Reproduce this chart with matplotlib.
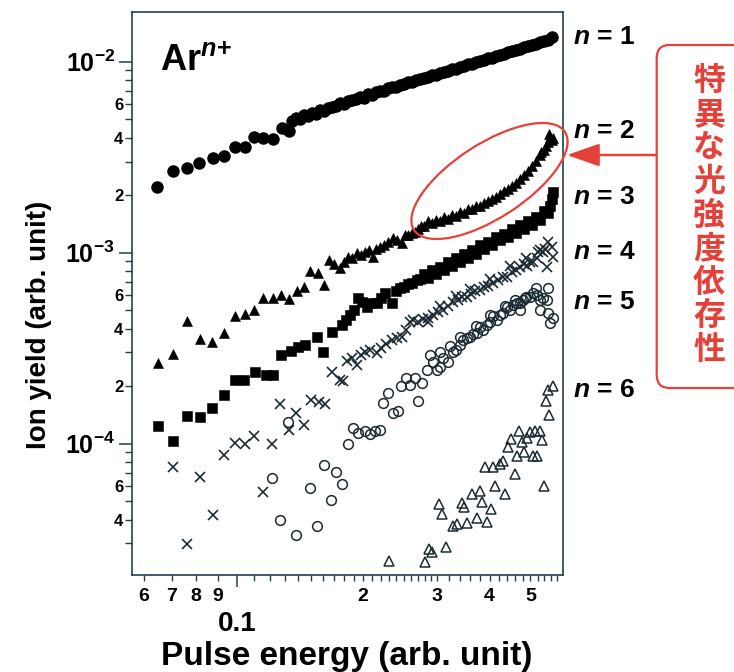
import numpy as np
import matplotlib
matplotlib.use('Agg')
import matplotlib.pyplot as plt
from matplotlib.patches import Ellipse, FancyBboxPatch
from matplotlib.ticker import FixedLocator, FuncFormatter

# ── FONTS ────────────────────────────────────────────────────────────────────
plt.rcParams['font.family'] = ['Liberation Sans', 'DejaVu Sans']
plt.rcParams['font.weight'] = 'bold'
plt.rcParams['mathtext.fontset'] = 'custom'
plt.rcParams['mathtext.rm'] = 'Liberation Sans:bold'
plt.rcParams['mathtext.bf'] = 'Liberation Sans:bold'
plt.rcParams['mathtext.it'] = 'Liberation Sans:italic:bold'

# ── DATA ─────────────────────────────────────────────────────────────────────
n1_energy = [0.0647, 0.0704, 0.0760, 0.0815, 0.0877, 0.0933, 0.0991, 0.1047, 0.1099, 0.1157,
             0.1218, 0.1280, 0.1334,
             0.1354, 0.1384, 0.1415, 0.1446, 0.1478, 0.1511, 0.1544, 0.1579, 0.1614, 0.1649,
             0.1686, 0.1723, 0.1761, 0.1800, 0.1840, 0.1881, 0.1923, 0.1965, 0.2009, 0.2053,
             0.2099, 0.2145, 0.2193, 0.2241, 0.2291, 0.2342, 0.2394, 0.2447, 0.2501, 0.2556,
             0.2613, 0.2671, 0.2730, 0.2790, 0.2852, 0.2915, 0.2980, 0.3046, 0.3113, 0.3182,
             0.3253, 0.3325, 0.3398, 0.3474, 0.3551, 0.3629, 0.3710, 0.3792, 0.3876, 0.3962,
             0.4049, 0.4139, 0.4231, 0.4325, 0.4420, 0.4518, 0.4618, 0.4721, 0.4825, 0.4932,
             0.5041, 0.5153, 0.5267, 0.5384, 0.5503, 0.5625]
n1_yield = [2.21e-3, 2.68e-3, 2.77e-3, 2.94e-3, 3.12e-3, 3.22e-3, 3.59e-3, 3.56e-3, 4.02e-3, 3.97e-3,
            3.92e-3, 4.48e-3, 4.35e-3,
            4.89e-3, 5.07e-3, 5.01e-3, 5.26e-3, 5.20e-3, 5.39e-3, 5.33e-3, 5.59e-3, 5.52e-3, 5.73e-3,
            5.79e-3, 5.86e-3, 6.08e-3, 6.00e-3, 6.22e-3, 6.30e-3, 6.38e-3, 6.53e-3, 6.46e-3, 6.77e-3,
            6.69e-3, 6.94e-3, 7.02e-3, 7.02e-3, 7.28e-3, 7.37e-3, 7.37e-3, 7.55e-3, 7.64e-3, 7.83e-3,
            7.83e-3, 8.02e-3, 8.12e-3, 8.22e-3, 8.32e-3, 8.52e-3, 8.52e-3, 8.73e-3, 8.84e-3, 8.94e-3,
            9.16e-3, 9.16e-3, 9.38e-3, 9.50e-3, 9.73e-3, 9.73e-3, 9.97e-3, 1.009e-2, 1.021e-2, 1.046e-2,
            1.046e-2, 1.071e-2, 1.084e-2, 1.098e-2, 1.125e-2, 1.139e-2, 1.152e-2, 1.166e-2, 1.195e-2, 1.209e-2,
            1.223e-2, 1.238e-2, 1.269e-2, 1.284e-2, 1.299e-2, 1.348e-2]

n2_energy = [0.0648, 0.0703, 0.0762, 0.0816, 0.0875, 0.0933, 0.0988, 0.1047, 0.1099, 0.1157,
             0.1217, 0.1273, 0.1328, 0.1392, 0.1446, 0.1495, 0.1561, 0.1609, 0.1659, 0.1704,
             0.1761, 0.1800, 0.1843, 0.1881, 0.1930, 0.1976, 0.2020, 0.2064, 0.2113, 0.2145,
             0.2193, 0.2241, 0.2295, 0.2360, 0.2407, 0.2471, 0.2515, 0.2561, 0.2613, 0.2656,
             0.2700, 0.2745,
             0.2790, 0.2852, 0.2915, 0.2980, 0.3046, 0.3113, 0.3182, 0.3253, 0.3325, 0.3398,
             0.3474, 0.3551, 0.3629, 0.3710, 0.3792, 0.3876, 0.3962, 0.4049, 0.4139, 0.4231,
             0.4325, 0.4420, 0.4518, 0.4618, 0.4721, 0.4825, 0.4932, 0.5041, 0.5153, 0.5267,
             0.5384, 0.5503, 0.5625,
             0.5533, 0.5655, 0.5443, 0.5296, 0.5564]
n2_yield = [2.64e-4, 2.95e-4, 4.41e-4, 3.52e-4, 3.41e-4, 3.79e-4, 4.65e-4, 4.79e-4, 4.98e-4, 5.80e-4,
            5.79e-4, 5.97e-4, 5.70e-4, 6.30e-4, 6.64e-4, 8.02e-4, 7.85e-4, 6.80e-4, 9.16e-4, 8.73e-4,
            8.29e-4, 8.94e-4, 9.46e-4, 9.39e-4, 9.98e-4, 9.73e-4, 1.01e-3, 1.03e-3, 9.46e-4, 1.04e-3,
            1.07e-3, 1.10e-3, 1.14e-3, 1.19e-3, 1.17e-3, 1.12e-3, 1.23e-3, 1.24e-3, 1.27e-3, 1.29e-3,
            1.33e-3, 1.38e-3,
            1.38e-3, 1.46e-3, 1.43e-3, 1.48e-3, 1.47e-3, 1.54e-3, 1.50e-3, 1.58e-3, 1.56e-3, 1.63e-3,
            1.61e-3, 1.69e-3, 1.69e-3, 1.76e-3, 1.76e-3, 1.82e-3, 1.86e-3, 1.91e-3, 1.95e-3, 2.03e-3,
            2.10e-3, 2.16e-3, 2.23e-3, 2.31e-3, 2.43e-3, 2.55e-3, 2.68e-3, 2.85e-3, 3.02e-3, 3.25e-3,
            3.45e-3, 3.79e-3, 3.89e-3,
            4.18e-3, 4.00e-3, 3.60e-3, 3.35e-3, 4.05e-3]

n3_energy = [0.0649, 0.0703, 0.0760, 0.0818, 0.0873, 0.0933, 0.0991, 0.1041, 0.1102, 0.1174,
             0.1222, 0.1275, 0.1346, 0.1402, 0.1454, 0.1550, 0.1607, 0.1686, 0.1778, 0.1821,
             0.1860, 0.1902, 0.1946, 0.1987, 0.2039, 0.2088, 0.2154, 0.2206, 0.2254, 0.2336,
             0.2394, 0.2447, 0.2501, 0.2556, 0.2613, 0.2681, 0.2730,
             0.2790, 0.2852, 0.2915, 0.2980, 0.3046, 0.3113, 0.3182, 0.3253, 0.3325, 0.3398,
             0.3474, 0.3551, 0.3629, 0.3710, 0.3792, 0.3876, 0.3962, 0.4049, 0.4139, 0.4231,
             0.4325, 0.4420, 0.4518, 0.4618, 0.4721, 0.4825, 0.4932, 0.5041, 0.5153, 0.5267,
             0.5384, 0.5503, 0.5625,
             0.5564, 0.5655]
n3_yield = [1.24e-4, 1.03e-4, 1.39e-4, 1.37e-4, 1.54e-4, 1.79e-4, 2.16e-4, 2.15e-4, 2.36e-4, 2.29e-4,
            2.29e-4, 2.91e-4, 3.07e-4, 3.22e-4, 3.29e-4, 3.63e-4, 3.03e-4, 3.82e-4, 4.18e-4, 4.44e-4,
            4.72e-4, 5.01e-4, 5.77e-4, 5.52e-4, 5.21e-4, 5.45e-4, 5.43e-4, 5.79e-4, 6.13e-4, 5.43e-4,
            6.30e-4, 6.51e-4, 6.62e-4, 6.86e-4, 6.95e-4, 7.20e-4, 7.29e-4,
            7.74e-4, 7.37e-4, 8.12e-4, 7.74e-4, 8.42e-4, 8.12e-4, 8.94e-4, 8.52e-4, 9.39e-4, 8.94e-4,
            9.84e-4, 9.39e-4, 1.03e-3, 9.84e-4, 1.09e-3, 1.04e-3, 1.14e-3, 1.09e-3, 1.20e-3, 1.16e-3,
            1.25e-3, 1.21e-3, 1.33e-3, 1.27e-3, 1.40e-3, 1.33e-3, 1.46e-3, 1.40e-3, 1.54e-3, 1.48e-3,
            1.65e-3, 1.61e-3, 1.91e-3,
            1.76e-3, 2.08e-3]

n4_energy = [0.0704, 0.0760, 0.0816, 0.0876, 0.0931, 0.0991, 0.1045, 0.1099, 0.1157, 0.1214,
             0.1270, 0.1330, 0.1386, 0.1443, 0.1499, 0.1570, 0.1623, 0.1690, 0.1761, 0.1793,
             0.1825, 0.1881, 0.1930, 0.1976, 0.2020, 0.2075, 0.2154, 0.2206, 0.2266, 0.2336,
             0.2403, 0.2471, 0.2528, 0.2584, 0.2632, 0.2700, 0.2781, 0.2852, 0.2935, 0.3013,
             0.3101, 0.3182, 0.3278, 0.3361, 0.3436, 0.3525, 0.3610, 0.3690, 0.3792, 0.3876,
             0.3962, 0.4080, 0.4185, 0.4301, 0.4396, 0.4518, 0.4618, 0.4721, 0.4825, 0.4905,
             0.4986, 0.5069, 0.5172, 0.5267, 0.5355, 0.5463, 0.5503, 0.5616, 0.5655,
             0.3046, 0.3325, 0.3590, 0.4006, 0.4469, 0.4878, 0.5210, 0.5413, 0.2852]
n4_yield = [7.53e-5, 2.97e-5, 6.72e-5, 4.21e-5, 8.68e-5, 1.01e-4, 9.99e-5, 1.09e-4, 5.55e-5, 1.00e-4,
            1.61e-4, 1.18e-4, 1.44e-4, 1.25e-4, 1.69e-4, 1.66e-4, 1.62e-4, 2.38e-4, 2.16e-4, 2.12e-4,
            2.71e-4, 2.81e-4, 2.58e-4, 2.91e-4, 3.03e-4, 3.09e-4, 2.97e-4, 3.17e-4, 3.33e-4, 3.49e-4,
            3.58e-4, 3.63e-4, 3.94e-4, 4.34e-4, 4.44e-4, 4.34e-4, 4.50e-4, 4.55e-4, 4.72e-4, 4.89e-4,
            5.01e-4, 5.26e-4, 5.54e-4, 5.65e-4, 5.87e-4, 5.89e-4, 6.08e-4, 6.30e-4, 6.38e-4, 6.62e-4,
            6.70e-4, 6.92e-4, 7.20e-4, 7.46e-4, 7.49e-4, 7.93e-4, 8.12e-4, 8.45e-4, 8.73e-4, 8.52e-4,
            8.98e-4, 8.94e-4, 9.39e-4, 1.03e-3, 1.01e-3, 8.45e-4, 1.13e-3, 1.07e-3, 9.53e-4,
            5.26e-4, 5.94e-4, 6.46e-4, 7.29e-4, 8.52e-4, 9.39e-4, 1.01e-3, 1.05e-3, 4.34e-4]

n5_energy = [0.1214, 0.1270, 0.1326, 0.1386, 0.1495, 0.1553, 0.1610, 0.1675, 0.1723, 0.1783,
             0.1835, 0.1894, 0.1946, 0.2020, 0.2075, 0.2133, 0.2193, 0.2232, 0.2295, 0.2355,
             0.2424, 0.2465, 0.2529, 0.2584, 0.2656, 0.2698, 0.2756, 0.2832, 0.2885, 0.2936,
             0.2993, 0.3046, 0.3102, 0.3188, 0.3217, 0.3274, 0.3335, 0.3398, 0.3455, 0.3526,
             0.3590, 0.3649, 0.3724, 0.3792, 0.3862, 0.3940, 0.4006, 0.4080, 0.4162, 0.4231,
             0.4301, 0.4391, 0.4469, 0.4543, 0.4643, 0.4721, 0.4799, 0.4890, 0.4986, 0.5077,
             0.5172, 0.5267, 0.5267, 0.5364, 0.5463, 0.5512, 0.5512, 0.5564, 0.5666,
             0.3046, 0.3398, 0.3710, 0.4006, 0.4353, 0.4593, 0.4851, 0.5153, 0.4721]
n5_yield = [6.62e-5, 3.97e-5, 1.30e-4, 3.32e-5, 5.84e-5, 3.72e-5, 7.69e-5, 5.05e-5, 7.07e-5, 6.14e-5,
            1.00e-4, 1.21e-4, 1.13e-4, 1.17e-4, 1.12e-4, 1.17e-4, 1.18e-4, 1.63e-4, 1.83e-4, 1.44e-4,
            1.49e-4, 2.00e-4, 2.20e-4, 2.02e-4, 2.20e-4, 1.67e-4, 2.07e-4, 2.43e-4, 2.91e-4, 2.68e-4,
            2.43e-4, 2.53e-4, 2.80e-4, 2.69e-4, 3.25e-4, 3.03e-4, 3.09e-4, 3.29e-4, 3.49e-4, 3.58e-4,
            3.63e-4, 3.76e-4, 3.80e-4, 4.08e-4, 3.94e-4, 4.18e-4, 4.34e-4, 4.66e-4, 4.44e-4, 4.72e-4,
            4.84e-4, 5.19e-4, 5.01e-4, 5.32e-4, 5.45e-4, 5.43e-4, 5.65e-4, 5.89e-4, 5.89e-4, 6.13e-4,
            6.01e-4, 5.65e-4, 5.01e-4, 5.77e-4, 5.65e-4, 6.54e-4, 4.82e-4, 4.27e-4, 4.55e-4,
            3.02e-4, 3.62e-4, 4.13e-4, 4.72e-4, 5.26e-4, 5.65e-4, 5.79e-4, 6.54e-4, 5.01e-4]

n6_energy = [0.2304, 0.2813, 0.2868, 0.2915, 0.3034, 0.3080, 0.3156, 0.3276, 0.3338, 0.3430,
             0.3474, 0.3532, 0.3639, 0.3724, 0.3792, 0.3838, 0.3897, 0.3940, 0.4020, 0.4078,
             0.4116, 0.4231, 0.4308, 0.4349, 0.4427, 0.4493, 0.4585, 0.4636, 0.4695, 0.4765,
             0.4825, 0.4905, 0.4986, 0.5077, 0.5125, 0.5196, 0.5267, 0.5325, 0.5384, 0.5452,
             0.5512, 0.5533, 0.5672]
n6_yield = [2.43e-5, 2.40e-5, 2.81e-5, 2.71e-5, 4.85e-5, 4.26e-5, 2.89e-5, 3.68e-5, 3.79e-5, 4.91e-5,
            4.64e-5, 3.86e-5, 5.42e-5, 4.09e-5, 5.63e-5, 4.97e-5, 7.56e-5, 3.89e-5, 4.55e-5, 7.56e-5,
            5.99e-5, 7.84e-5, 8.06e-5, 5.44e-5, 9.65e-5, 1.06e-4, 6.89e-5, 8.63e-5, 1.16e-4, 1.02e-4,
            9.00e-5, 1.07e-4, 1.15e-4, 8.63e-5, 1.16e-4, 8.63e-5, 1.16e-4, 1.04e-4, 5.96e-5, 1.67e-4,
            1.91e-4, 1.41e-4, 2.01e-4]

charge_labels = ['$n$ = 1', '$n$ = 2', '$n$ = 3', '$n$ = 4', '$n$ = 5', '$n$ = 6']
note_text = '特異な光強度依存性'

x_minor_labels = {0.06: '6', 0.07: '7', 0.08: '8', 0.09: '9',
                  0.2: '2', 0.3: '3', 0.4: '4', 0.5: '5'}

# ── STYLE ────────────────────────────────────────────────────────────────────
dark = '#1c2b33'
frame = '#24404f'
red = '#e5413a'

fig = plt.figure(figsize=(7.34, 6.72), dpi=100)
fig.patch.set_facecolor('white')
ax = fig.add_axes([132 / 734, 97 / 672, 431 / 734, 563 / 672])

ax.plot(n1_energy, n1_yield, 'o', color='black', ms=9, mew=0)
ax.plot(n2_energy, n2_yield, '^', color='black', ms=7.5, mew=0.4)
ax.plot(n3_energy, n3_yield, 's', color='black', ms=7.3, mew=0.4)
ax.plot(n4_energy, n4_yield, 'x', color=dark, ms=7.5, mew=1.2)
ax.plot(n5_energy, n5_yield, 'o', mfc='none', mec=dark, ms=7, mew=1.1)
ax.plot(n6_energy, n6_yield, '^', mfc='none', mec=dark, ms=7.5, mew=1.1)

ax.set_xscale('log')
ax.set_yscale('log')
ax.set_xlim(0.0563, 0.598)
ax.set_ylim(2.05e-5, 1.82e-2)

for sp in ax.spines.values():
    sp.set_color(frame)
    sp.set_linewidth(1.2)

# x ticks
x_fine = ([0.06, 0.07, 0.08, 0.09] + list(np.arange(0.11, 0.295, 0.01))
          + list(np.arange(0.30, 0.59, 0.02)))
ax.xaxis.set_major_locator(FixedLocator([0.1]))
ax.xaxis.set_major_formatter(FuncFormatter(lambda v, p: '0.1'))
ax.xaxis.set_minor_locator(FixedLocator(x_fine))
ax.xaxis.set_minor_formatter(FuncFormatter(lambda v, p: x_minor_labels.get(round(v, 2), '')))

# y ticks
y_fine = [m * 10.0 ** e for e in (-5, -4, -3, -2) for m in range(2, 10)]
ax.yaxis.set_major_locator(FixedLocator([1e-4, 1e-3, 1e-2]))
ax.yaxis.set_major_formatter(FuncFormatter(lambda v, p: r'$10^{%d}$' % round(np.log10(v))))
ax.yaxis.set_minor_locator(FixedLocator(y_fine))


def y_minor_fmt(v, p):
    m = int(round(v / 10.0 ** np.floor(np.log10(v) + 1e-9)))
    return str(m) if m in (2, 4, 6) else ''


ax.yaxis.set_minor_formatter(FuncFormatter(y_minor_fmt))

ax.tick_params(which='both', direction='out', color=frame, top=False, right=False)
ax.tick_params(axis='y', which='major', length=9.4, width=1.1, labelsize=18, pad=3)
ax.tick_params(axis='y', which='minor', length=4.7, width=1.0, labelsize=12, pad=1.5)
ax.tick_params(axis='x', which='major', length=8.6, width=1.1, labelsize=20, pad=17)
ax.tick_params(axis='x', which='minor', length=4.3, width=1.0, labelsize=14, pad=5)

# axis titles
fig.text(346.7 / 734, 7 / 672, 'Pulse energy (arb. unit)', ha='center', va='baseline',
         fontsize=24, fontweight='bold')
fig.text(39 / 734, 1 - 325 / 672, 'Ion yield (arb. unit)', rotation=90, ha='center',
         va='center', fontsize=20, fontweight='bold')

# Ar^{n+}
fig.text(160 / 734, 1 - 71 / 672, r'Ar$^{n\!+}$', ha='left', va='baseline',
         fontsize=26, fontweight='bold')

# charge state labels on the right
label_rows = [37.5, 131, 197, 252, 302, 390]
for lab, row in zip(charge_labels, label_rows):
    fig.text(573 / 734, 1 - row / 672, lab, ha='left', va='center', fontsize=19,
             fontweight='bold')

# ── RED CALLOUT ──────────────────────────────────────────────────────────────
ring = Ellipse((4.895, 6.72 - 1.81), width=1.80, height=0.74, angle=33,
               transform=fig.dpi_scale_trans, fill=False, edgecolor=red, lw=1.6)
fig.add_artist(ring)

box = FancyBboxPatch((6.567, 6.72 - 3.88), 1.0, 3.43,
                     boxstyle='round,pad=0,rounding_size=0.13',
                     transform=fig.dpi_scale_trans, facecolor='white',
                     edgecolor=red, lw=1.6, clip_on=False)
fig.add_artist(box)

for i, ch in enumerate(note_text):
    fig.text(709 / 734, 1 - (81 + 33.6 * i) / 672, ch, ha='center', va='center',
             fontsize=23, color=red, family=['Noto Sans CJK JP', 'DejaVu Sans'])

ax.annotate('', xy=(567, 672 - 155), xytext=(657, 672 - 155),
            xycoords='figure pixels', textcoords='figure pixels',
            arrowprops=dict(arrowstyle='-|>,head_length=2.0,head_width=0.7',
                            color=red, lw=1.8, shrinkA=0, shrinkB=0))

fig.savefig('out.png', dpi=100, facecolor='white')
